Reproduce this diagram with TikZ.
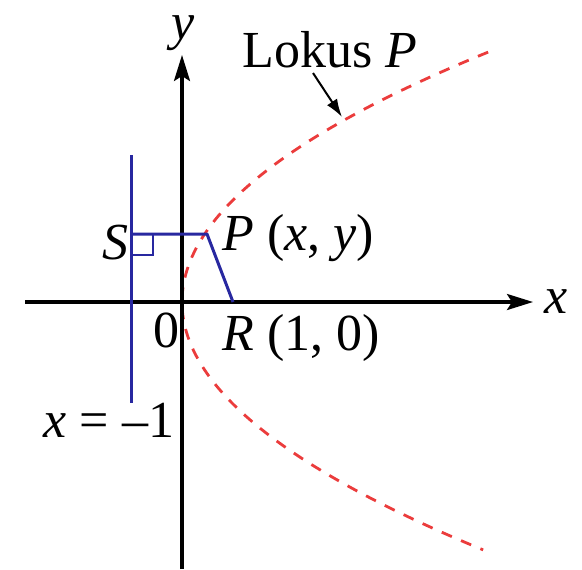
\documentclass[tikz,border=0pt]{standalone}
\usepackage{fontspec}
\setmainfont{Liberation Serif}
\usetikzlibrary{arrows.meta}
\definecolor{bl}{RGB}{40,40,160}
\definecolor{rd}{RGB}{235,60,60}
\begin{document}
\begin{tikzpicture}[x=0.5pt,y=-0.5pt,
  axis/.style={line width=1.6pt,-{Stealth[length=13pt,width=8pt,inset=2.5pt]}},
  blueline/.style={bl,line width=1.5pt},
  locus/.style={rd,line width=1.4pt,dash pattern=on 5.5pt off 5pt},
  lbl/.style={font=\fontsize{26}{30}\selectfont,inner sep=0pt}]
\useasboundingbox (0,0) rectangle (582,569);
% coordinates
\coordinate (O) at (182,302);
\coordinate (xl) at (25,302);
\coordinate (xr) at (533,302);
\coordinate (yb) at (182,569);
\coordinate (yt) at (182,55);
\coordinate (Dt) at (131,155);
\coordinate (Db) at (131,403);
\coordinate (Sp) at (131,234);
\coordinate (Pp) at (207,234);
\coordinate (Rp) at (233,302);
% parabola
\draw[locus] plot[domain=4.9:-4.86,samples=120] ({182+51*\x*\x/4},{302-51*\x});
% axes
\draw[axis] (xl) -- (xr);
\draw[axis] (yb) -- (yt);
% directrix and segments
\draw[blueline] (Dt) -- (Db);
\draw[blueline,line join=round] (Sp) -- (Pp) -- (Rp);
\draw[bl,line width=0.7pt] (132,234) |- (153,255) -- (153,234);
% labels
\node[lbl] (ylab) at (183,33) {\textit{y}};
\node[lbl] (xlab) at (556,302) {\textit{x}};
\node[lbl,anchor=west] (Plab) at (222,238) {\textit{P} (\textit{x}, \textit{y})};
\node[lbl,anchor=west] (Rlab) at (222,338) {\textit{R} (1, 0)};
\node[lbl] (Slab) at (115,243) {\textit{S}};
\node[lbl] (zero) at (166,330) {0};
\node[lbl] (dlab) at (109,420) {\textit{x} = –1};
\node[lbl] (lok) at (330,50) {Lokus \textit{P}};
\coordinate (arrtip) at (342,117);
\draw[line width=1pt,-{Latex[length=9pt,width=6pt]}] (313,73) -- (arrtip);
\end{tikzpicture}
\end{document}
